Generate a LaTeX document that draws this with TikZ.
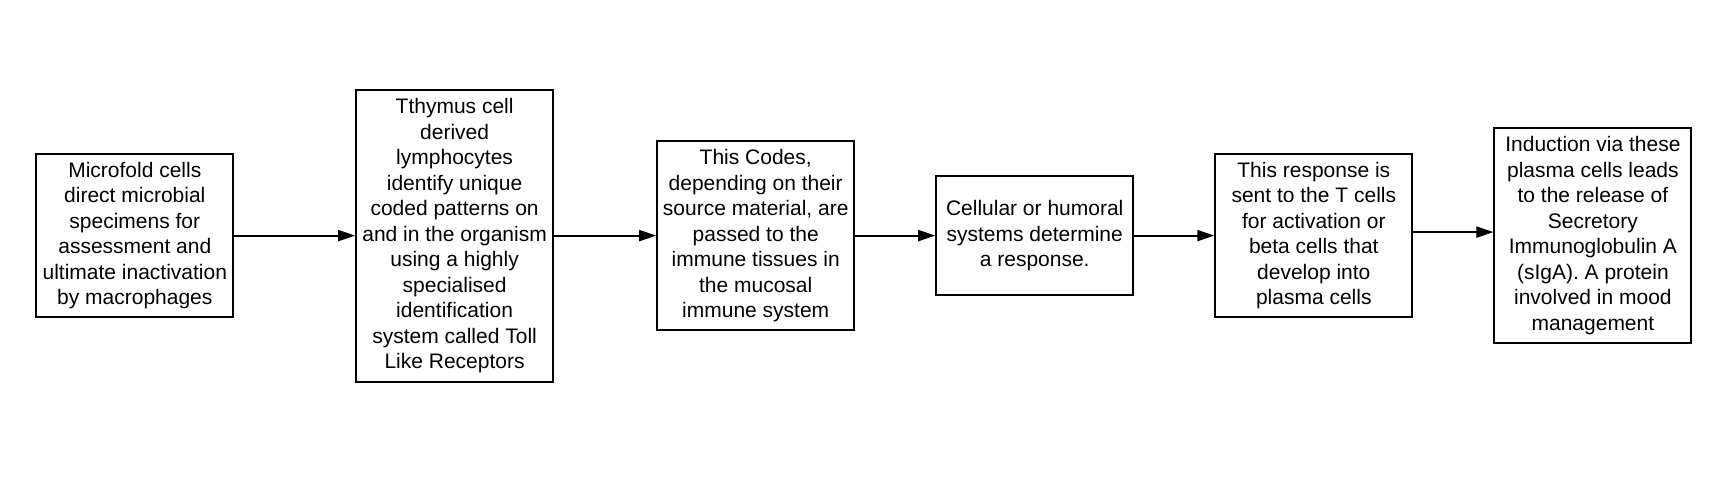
\documentclass[tikz,border=0pt]{standalone}
\usepackage{fontspec}
\setmainfont{Liberation Sans}
\usetikzlibrary{arrows.meta}
\begin{document}
\begin{tikzpicture}[x=1pt,y=1pt,
 box/.style={draw, line width=2pt, minimum width=197pt, align=center, inner sep=0pt, font=\fontsize{21}{25.5}\selectfont},
 conn/.style={line width=2pt, -{Triangle[length=17pt,width=11pt]}}]
\useasboundingbox (0,0) rectangle (1726,477);
\node[box, minimum height=163pt] (b1) at (134.8,241.4) {Microfold cells\\direct microbial\\specimens for\\assessment and\\ultimate inactivation\\by macrophages};
\node[box, minimum height=292pt] (b2) at (454.6,241.4) {Tthymus cell\\derived\\lymphocytes\\identify unique\\coded patterns on\\and in the organism\\using a highly\\specialised\\identification\\system called Toll\\Like Receptors};
\node[box, minimum height=189pt] (b3) at (755.7,241.4) {This Codes,\\depending on their\\source material, are\\passed to the\\immune tissues in\\the mucosal\\immune system};
\node[box, minimum height=119pt] (b4) at (1034.7,241.4) {Cellular or humoral\\systems determine\\a response.};
\node[box, minimum height=163pt] (b5) at (1313.8,241.4) {This response is\\sent to the T cells\\for activation or\\beta cells that\\develop into\\plasma cells};
\node[box, minimum height=214.6pt] (b6) at (1592.9,241.4) {Induction via these\\plasma cells leads\\to the release of\\Secretory\\Immunoglobulin A\\(sIgA). A protein\\involved in mood\\management};
\draw[conn] (b1.east) -- (b2.west);
\draw[conn] (b2.east) -- (b3.west);
\draw[conn] (b3.east) -- (b4.west);
\draw[conn] (b4.east) -- (b5.west);
\draw[conn] ([yshift=3.5pt]b5.east) -- ([yshift=3.5pt]b5.east -| b6.west);
\end{tikzpicture}
\end{document}
